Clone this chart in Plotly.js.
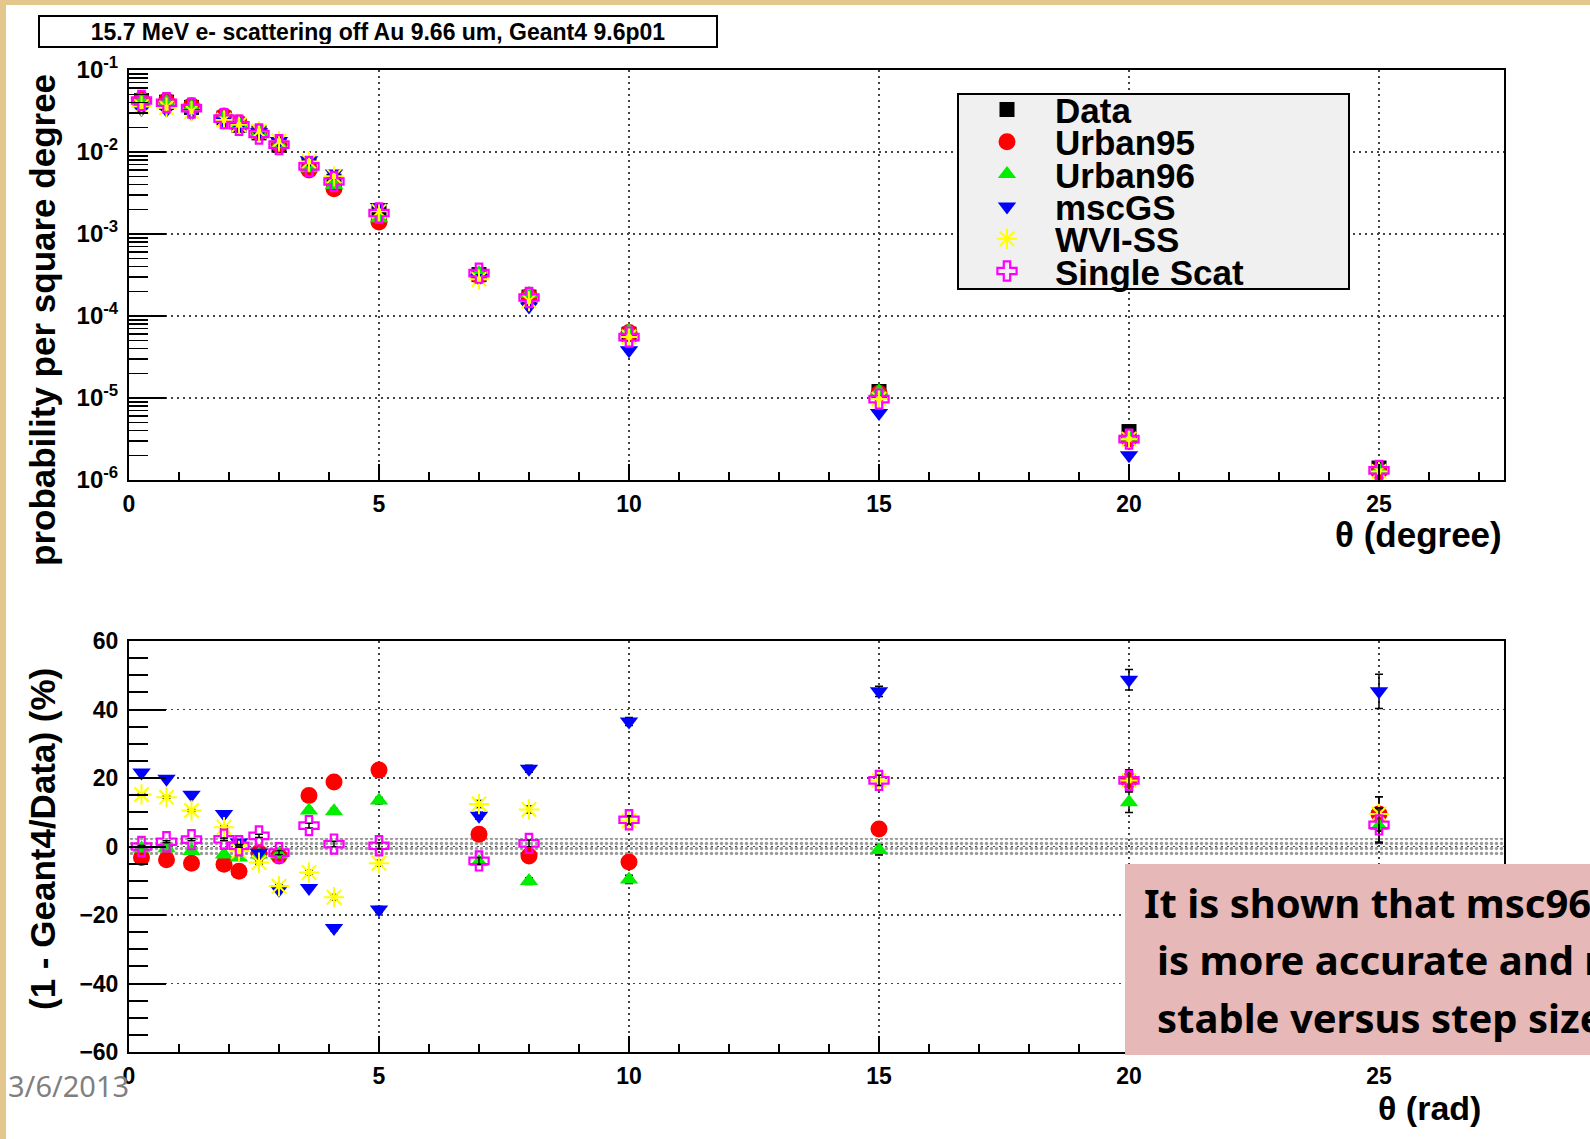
<!DOCTYPE html>
<html><head><meta charset="utf-8">
<script src="https://cdn.plot.ly/plotly-3.0.1.min.js"></script>
<style>html,body{margin:0;padding:0;overflow:hidden;background:#fff}</style>
</head><body><div id="chart" style="width:1590px;height:1139px"></div>
<script>
// ---------- data ----------
const theta = [0.25, 0.75, 1.25, 1.9, 2.2, 2.6, 3.0, 3.6, 4.1, 5.0, 7, 8, 10, 15, 20, 25];

// probability per square degree (upper panel)
const probData     = [0.0424, 0.0405, 0.0350, 0.0260, 0.0212, 0.0171, 0.0121, 0.0071, 0.0044, 0.0018, 3.2e-4, 1.7e-4, 6.0e-5, 1.2e-5, 3.9e-6, 1.4e-6];
const probUrban95  = [0.0438, 0.0421, 0.0367, 0.0274, 0.0227, 0.0174, 0.0124, 0.00604, 0.00357, 0.0014, 3.08e-4, 1.75e-4, 6.27e-5, 1.14e-5, 3.15e-6, 1.27e-6];
const probUrban96  = [0.0427, 0.0407, 0.0355, 0.0266, 0.0219, 0.0175, 0.0124, 0.00635, 0.00395, 0.00156, 3.34e-4, 1.87e-4, 6.58e-5, 1.21e-5, 3.40e-6, 1.32e-6];
const probMscGS    = [0.0332, 0.0325, 0.0297, 0.0235, 0.0209, 0.0174, 0.0136, 0.00796, 0.00545, 0.00213, 2.91e-4, 1.31e-4, 3.81e-5, 6.56e-6, 2.0e-6, 7.66e-7];
const probWVISS    = [0.0360, 0.0347, 0.0313, 0.0245, 0.0215, 0.0179, 0.0135, 0.00764, 0.00505, 0.00189, 2.80e-4, 1.52e-4, 5.55e-5, 9.7e-6, 3.15e-6, 1.27e-6];
const probSingle   = [0.0424, 0.0399, 0.0343, 0.0255, 0.02116, 0.0166, 0.0123, 0.00667, 0.00437, 0.00180, 3.33e-4, 1.68e-4, 5.53e-5, 9.7e-6, 3.15e-6, 1.31e-6];

// (1 - Geant4/Data) in % (lower panel)
const ratioUrban95 = [-3.2, -3.9, -4.9, -5.2, -7.2, -1.8, -2.8, 14.9, 18.8, 22.3, 3.6, -2.8, -4.5, 5.1, 19.3, 9.5];
const ratioUrban96 = [-0.6, -0.5, -1.3, -2.3, -3.2, -2.3, -2.3, 10.5, 10.3, 13.4, -4.5, -10.1, -9.6, -1.0, 12.9, 6.0];
const ratioMscGS   = [21.6, 19.8, 15.1, 9.5, 1.2, -1.8, -12.6, -12.1, -23.8, -18.4, 9.0, 22.7, 36.5, 45.3, 48.7, 45.3];
const ratioWVISS   = [15.2, 14.4, 10.5, 5.6, -1.3, -4.7, -11.6, -7.6, -14.8, -4.9, 12.4, 10.8, 7.5, 19.3, 19.3, 9.5];
const ratioSingle  = [0.0, 1.4, 2.0, 2.1, 0.2, 3.1, -1.8, 6.1, 0.7, 0.2, -4.2, 0.9, 7.8, 19.3, 19.3, 6.3];
const ratioErr     = [0.3, 0.3, 0.3, 0.4, 0.4, 0.5, 0.6, 0.7, 0.8, 0.9, 1.0, 1.0, 1.2, 1.5, 3.0, 5.0];

// data uncertainty band in the lower panel
const bandX    = [0, 27.5];
const bandHalf = 2.5;

const seriesNames = ['Data', 'Urban95', 'Urban96', 'mscGS', 'WVI-SS', 'Single Scat'];
const xTicks  = [0, 5, 10, 15, 20, 25];
const yTopTicks = [1e-6, 1e-5, 1e-4, 1e-3, 1e-2, 1e-1];
const yTopText  = ['10<sup>-6</sup>', '10<sup>-5</sup>', '10<sup>-4</sup>', '10<sup>-3</sup>', '10<sup>-2</sup>', '10<sup>-1</sup>'];
const yBotTicks = [-60, -40, -20, 0, 20, 40, 60];

// ---------- styles ----------
const W = 1590, H = 1139;
const px = x => x / W;
const py = y => 1 - y / H;
const FONT = 'Liberation Sans, Arial, Helvetica, sans-serif';
const styles = [
  {symbol: 'square', color: '#000000', size: 15},
  {symbol: 'circle', color: '#ff0000', size: 17},
  {symbol: 'triangle-up', color: '#00ee00', size: 16},
  {symbol: 'triangle-down', color: '#0000ff', size: 16},
  {symbol: 'asterisk-open', color: '#ffff00', size: 17, line: 2},
  {symbol: 'cross-open', color: '#ff00ff', size: 16, line: 2.2}
];
function mk(s) {
  const m = {symbol: s.symbol, size: s.size, color: s.color};
  m.line = {color: s.color, width: s.line || 0};
  return m;
}

const topVals = [probData, probUrban95, probUrban96, probMscGS, probWVISS, probSingle];
const botVals = [null, ratioUrban95, ratioUrban96, ratioMscGS, ratioWVISS, ratioSingle];

const traces = [];
topVals.forEach((v, i) => {
  traces.push({x: theta, y: v, type: 'scatter', mode: 'markers', name: seriesNames[i],
    marker: mk(styles[i]), xaxis: 'x', yaxis: 'y', showlegend: false, cliponaxis: true});
});
// band
traces.push({x: [bandX[0], bandX[1], bandX[1], bandX[0], bandX[0]],
  y: [bandHalf, bandHalf, -bandHalf, -bandHalf, bandHalf],
  type: 'scatter', mode: 'lines', fill: 'toself', fillcolor: 'rgba(0,0,0,0)',
  fillpattern: {shape: '.', fgcolor: '#9a9a9a', size: 5, solidity: 0.35},
  line: {width: 0}, xaxis: 'x2', yaxis: 'y2', showlegend: false, hoverinfo: 'skip'});
botVals.forEach((v, i) => {
  if (!v) return;
  traces.push({x: theta, y: v, type: 'scatter', mode: 'markers', name: seriesNames[i],
    marker: mk(styles[i]), xaxis: 'x2', yaxis: 'y2', showlegend: false,
    error_y: {type: 'data', array: ratioErr, visible: true, color: '#000', thickness: 1.5, width: 4}});
});
// legend keys (pixel coordinates on a hidden overlay axis)
const legKeyX = seriesNames.map(() => 1007);
const legKeyY = seriesNames.map((_, i) => 109.5 + i * 32.3);
styles.forEach((s, i) => {
  traces.push({x: [legKeyX[i]], y: [legKeyY[i]], type: 'scatter', mode: 'markers',
    marker: mk(s), xaxis: 'x3', yaxis: 'y3', showlegend: false, hoverinfo: 'skip'});
});

const gridDash = '2px,4px';
const xCommon = {
  range: [0, 27.5], tickmode: 'array', tickvals: xTicks, ticks: 'inside', ticklen: 16, tickwidth: 2,
  tickcolor: '#000', showline: true, linecolor: '#000', linewidth: 2, mirror: true,
  showgrid: true, gridcolor: '#444', gridwidth: 1.5, griddash: gridDash, zeroline: false,
  minor: {dtick: 1, ticks: 'inside', ticklen: 8, tickwidth: 2, tickcolor: '#000', showgrid: false},
  tickfont: {family: FONT, size: 23, color: '#000', weight: 700}, ticklabelstandoff: 2
};
const xDomain = [px(129), px(1504)];

const annotations = [
  {text: '15.7 MeV e- scattering off Au 9.66 um, Geant4 9.6p01', xref: 'paper', yref: 'paper',
   x: px(37.5), xanchor: 'left', y: py(31.5), yanchor: 'middle', showarrow: false,
   bordercolor: '#000', borderwidth: 2, borderpad: 2, bgcolor: '#fff', width: 672, height: 25,
   font: {family: FONT, size: 23, color: '#000', weight: 700}},
  {text: 'probability per square degree', textangle: -90, xref: 'paper', yref: 'paper',
   x: px(42), y: py(320), xanchor: 'center', yanchor: 'middle', showarrow: false,
   font: {family: FONT, size: 35, color: '#000', weight: 700}},
  {text: '(1 - Geant4/Data) (%)', textangle: -90, xref: 'paper', yref: 'paper',
   x: px(42), y: py(839), xanchor: 'center', yanchor: 'middle', showarrow: false,
   font: {family: FONT, size: 35, color: '#000', weight: 700}},
  {text: 'θ (degree)', xref: 'paper', yref: 'paper', x: px(1504), xanchor: 'right',
   y: py(534), yanchor: 'middle', showarrow: false, font: {family: FONT, size: 35, color: '#000', weight: 700}},
  {text: 'θ (rad)', xref: 'paper', yref: 'paper', x: px(1483), xanchor: 'right',
   y: py(1108), yanchor: 'middle', showarrow: false, font: {family: FONT, size: 34, color: '#000', weight: 700}},
  {text: '3/6/2013', xref: 'paper', yref: 'paper', x: px(6), xanchor: 'left', y: py(1085),
   yanchor: 'middle', showarrow: false, font: {family: 'Noto Sans, sans-serif', size: 29, color: '#7f7f7f'}},
  {text: 'It is shown that msc96', xref: 'paper', yref: 'paper', x: px(1142), xanchor: 'left',
   y: py(902), yanchor: 'middle', showarrow: false, font: {family: 'Noto Sans, sans-serif', size: 40, color: '#000', weight: 700}},
  {text: 'is more accurate and more', xref: 'paper', yref: 'paper', x: px(1155), xanchor: 'left',
   y: py(959), yanchor: 'middle', showarrow: false, font: {family: 'Noto Sans, sans-serif', size: 40, color: '#000', weight: 700}},
  {text: 'stable versus step size', xref: 'paper', yref: 'paper', x: px(1155), xanchor: 'left',
   y: py(1017), yanchor: 'middle', showarrow: false, font: {family: 'Noto Sans, sans-serif', size: 40, color: '#000', weight: 700}}
];
seriesNames.forEach((n, i) => {
  annotations.push({text: n, xref: 'x3', yref: 'y3', x: 1053, xanchor: 'left', y: legKeyY[i] + 1,
    yanchor: 'middle', showarrow: false, font: {family: FONT, size: 35, color: '#000', weight: 700}});
});

const layout = {
  width: W, height: H, margin: {l: 0, r: 0, t: 0, b: 0},
  paper_bgcolor: '#ffffff', plot_bgcolor: 'rgba(0,0,0,0)', showlegend: false,
  xaxis: Object.assign({}, xCommon, {domain: xDomain, anchor: 'y'}),
  yaxis: {domain: [py(480), py(70)], anchor: 'x', type: 'log', range: [-6, -1],
    tickmode: 'array', tickvals: yTopTicks, ticktext: yTopText, ticks: 'inside', ticklen: 37, tickwidth: 2,
    tickcolor: '#000', showline: true, linecolor: '#000', linewidth: 2, mirror: true,
    showgrid: true, gridcolor: '#444', gridwidth: 1.5, griddash: gridDash, zeroline: false,
    minor: {dtick: 'D1', ticks: 'inside', ticklen: 19, tickwidth: 1.5, tickcolor: '#000', showgrid: false},
    tickfont: {family: FONT, size: 24, color: '#000', weight: 700}, ticklabelstandoff: 4},
  xaxis2: Object.assign({}, xCommon, {domain: xDomain, anchor: 'y2'}),
  yaxis2: {domain: [py(1052), py(641)], anchor: 'x2', range: [-60, 60],
    tickmode: 'array', tickvals: yBotTicks, ticks: 'inside', ticklen: 37, tickwidth: 2,
    tickcolor: '#000', showline: true, linecolor: '#000', linewidth: 2, mirror: true,
    showgrid: true, gridcolor: '#444', gridwidth: 1.5, griddash: gridDash, zeroline: false,
    minor: {dtick: 5, ticks: 'inside', ticklen: 19, tickwidth: 2, tickcolor: '#000', showgrid: false},
    tickfont: {family: FONT, size: 23, color: '#000', weight: 700}, ticklabelstandoff: 4},
  xaxis3: {domain: [0, 1], range: [0, W], visible: false, anchor: 'y3', fixedrange: true},
  yaxis3: {domain: [0, 1], range: [H, 0], visible: false, anchor: 'x3', fixedrange: true},
  shapes: [
    {type: 'rect', xref: 'x3', yref: 'y3', x0: 958, x1: 1349, y0: 94, y1: 289,
     fillcolor: '#f0f0f0', line: {color: '#000', width: 2}, layer: 'between'},
    {type: 'rect', xref: 'paper', yref: 'paper', x0: px(1125), x1: 1.02, y0: py(1055), y1: py(864),
     fillcolor: '#e6b8b7', line: {width: 0}, layer: 'above'},
    {type: 'rect', xref: 'paper', yref: 'paper', x0: 0, x1: px(6), y0: 0, y1: 1,
     fillcolor: '#e3c78c', line: {width: 0}, layer: 'above'},
    {type: 'rect', xref: 'paper', yref: 'paper', x0: 0, x1: 1, y0: py(5), y1: 1,
     fillcolor: '#e3c78c', line: {width: 0}, layer: 'above'}
  ],
  annotations: annotations
};

Plotly.newPlot('chart', traces, layout, {staticPlot: true, displayModeBar: false});
</script></body></html>
